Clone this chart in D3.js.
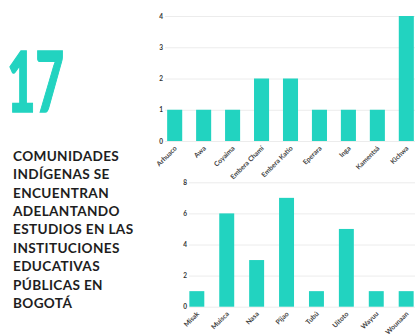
<!DOCTYPE html>
<html>
<head>
<meta charset="utf-8">
<script src="https://cdn.jsdelivr.net/npm/d3@7"></script>
<style>
  body { margin: 0; background: #fff; }
  svg { display: block; font-family: Lato, "Open Sans", sans-serif; }
</style>
</head>
<body>
<svg id="chart" width="418" height="334"></svg>
<script>
// data
const bigNumber = "17";
const textLines = ["COMUNIDADES", "INDÍGENAS SE", "ENCUENTRAN", "ADELANTANDO",
    "ESTUDIOS EN LAS", "INSTITUCIONES", "EDUCATIVAS", "PÚBLICAS EN", "BOGOTÁ"];

const topNames = ["Arhuaco", "Awa", "Coyaima", "Embera Chamí", "Embera Katío",
    "Eperara", "Inga", "Kamentsá", "Kichwa"];
const topValues = [1, 1, 1, 2, 2, 1, 1, 1, 4];
const topTicks = [0, 1, 2, 3, 4];

const bottomNames = ["Misak", "Muisca", "Nasa", "Pijao", "Tubú", "Uitoto", "Wayuu", "Wounaan"];
const bottomValues = [1, 6, 3, 7, 1, 5, 1, 1];
const bottomTicks = [0, 2, 4, 6, 8];

const teal = "#22d3c0";
let svg = d3.select("#chart");

// left text block
svg.append("text")
    .attr("x", 7)
    .attr("y", 112)
    .attr("font-size", 84)
    .attr("font-weight", 900)
    .attr("fill", teal)
    .attr("stroke", teal)
    .attr("stroke-width", 1.5)
    .attr("textLength", 57)
    .attr("lengthAdjust", "spacingAndGlyphs")
    .text(bigNumber);

svg.append("g").selectAll("text")
    .data(textLines)
    .enter().append("text")
    .attr("x", 13)
    .attr("y", (d, i) => 160.7 + i * 18.4)
    .attr("font-size", 13.6)
    .attr("font-weight", "bold")
    .attr("letter-spacing", 0.35)
    .attr("fill", "#1e1e1e")
    .text(d => d);

function barChart(names, values, ticks, opt) {
    let x = d3.scaleBand().domain(names)
        .range([opt.left, opt.right])
        .paddingInner(opt.inner)
        .paddingOuter(opt.outer);
    let y = d3.scaleLinear().domain([0, ticks[ticks.length - 1]])
        .range([opt.bottom, opt.top]);

    // y axis + gridlines
    let yAxis = svg.append("g")
        .attr("transform", "translate(" + opt.axisX + ",0)")
        .call(d3.axisLeft(y).tickValues(ticks).tickFormat(d3.format("d"))
            .tickSize(-(opt.right - opt.axisX)).tickPadding(2));
    yAxis.select(".domain").remove();
    yAxis.selectAll("line").attr("stroke", "#ececec");
    yAxis.selectAll("text")
        .attr("font-size", 6.5)
        .attr("font-weight", "bold")
        .attr("fill", "#333")
        .attr("font-family", "Lato, sans-serif");

    // bars
    svg.append("g").selectAll("rect")
        .data(values)
        .enter().append("rect")
        .attr("x", (d, i) => x(names[i]))
        .attr("y", d => y(d))
        .attr("width", x.bandwidth())
        .attr("height", d => y(0) - y(d))
        .attr("fill", teal);

    // x axis labels, rotated 45 degrees
    let xAxis = svg.append("g")
        .attr("transform", "translate(0," + opt.bottom + ")")
        .call(d3.axisBottom(x).tickSize(0));
    xAxis.select(".domain").remove();
    xAxis.selectAll("text")
        .attr("x", 0)
        .attr("y", 0)
        .attr("dy", "0.35em")
        .attr("text-anchor", "end")
        .attr("transform", "translate(1,6) rotate(-45)")
        .attr("font-size", 6.8)
        .attr("font-weight", "bold")
        .attr("fill", "#444")
        .attr("font-family", "Lato, sans-serif");
}

barChart(topNames, topValues, topTicks,
    {left: 166, right: 415, axisX: 165, top: 16, bottom: 141, inner: 0.48, outer: 0.04});
barChart(bottomNames, bottomValues, bottomTicks,
    {left: 188, right: 415, axisX: 189, top: 182.3, bottom: 306.7, inner: 0.5, outer: 0.045});
</script>
</body>
</html>
